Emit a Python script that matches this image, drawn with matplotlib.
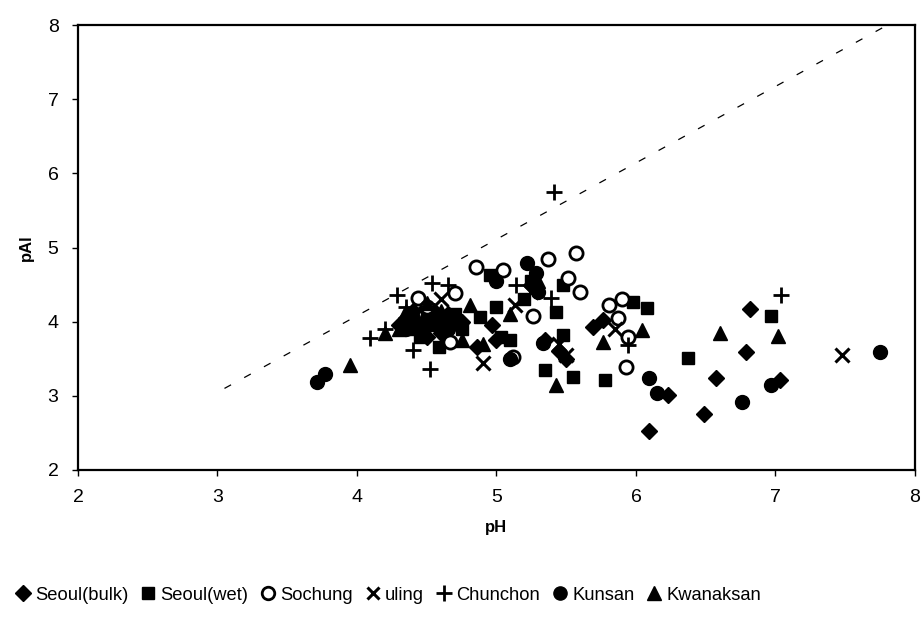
import matplotlib
matplotlib.use("Agg")
import matplotlib.pyplot as plt

plt.rcParams['font.family'] = ['Liberation Sans', 'DejaVu Sans']

# Seoul(bulk) - filled diamonds
bulk_x = [4.30, 4.35, 4.40, 4.45, 4.50, 4.55, 4.60, 4.65, 4.75, 4.86, 4.97, 5.00, 5.25,
          5.35, 5.45, 5.50, 5.69, 5.76, 6.09, 6.23, 6.49, 6.57, 6.79, 6.82, 7.03]
bulk_y = [3.95, 4.05, 4.15, 3.95, 3.80, 4.15, 3.85, 4.10, 4.00, 3.66, 3.95, 3.75, 4.50,
          3.75, 3.60, 3.50, 3.93, 4.02, 2.52, 3.01, 2.76, 3.24, 3.59, 4.17, 3.22]

# Seoul(wet) - filled squares
wet_x = [4.35, 4.40, 4.45, 4.50, 4.55, 4.59, 4.60, 4.70, 4.75, 4.88, 4.95, 5.00, 5.03,
         5.10, 5.20, 5.25, 5.35, 5.43, 5.48, 5.48, 5.55, 5.78, 5.98, 6.08, 6.37, 6.97]
wet_y = [4.00, 3.90, 3.80, 4.10, 3.95, 3.66, 4.00, 4.10, 3.90, 4.06, 4.63, 4.20, 3.80,
         3.75, 4.30, 4.55, 3.35, 4.13, 3.82, 4.50, 3.26, 3.22, 4.27, 4.19, 3.51, 4.08]

# Sochung - open circles
soc_x = [4.44, 4.50, 4.67, 4.70, 4.85, 5.05, 5.12, 5.26, 5.37, 5.51, 5.57, 5.60, 5.81,
         5.87, 5.90, 5.94, 5.93]
soc_y = [4.32, 4.20, 3.73, 4.39, 4.74, 4.70, 3.53, 4.08, 4.85, 4.59, 4.93, 4.40, 4.23,
         4.05, 4.30, 3.80, 3.39]

# uling - x
ul_x = [4.40, 4.60, 4.90, 5.13, 5.25, 5.45, 5.50, 5.85, 7.48]
ul_y = [4.10, 4.30, 3.44, 4.23, 4.40, 3.70, 3.55, 3.90, 3.55]

# Chunchon - plus
ch_x = [4.09, 4.20, 4.29, 4.35, 4.40, 4.52, 4.54, 4.65, 5.14, 5.39, 5.41, 5.94, 7.04]
ch_y = [3.78, 3.90, 4.36, 4.20, 3.62, 3.36, 4.52, 4.50, 4.50, 4.32, 5.75, 3.69, 4.36]

# Kunsan - filled circles
ku_x = [3.71, 3.77, 4.35, 4.40, 4.50, 4.55, 4.65, 4.70, 5.00, 5.10, 5.22, 5.28, 5.30,
        5.33, 6.09, 6.15, 6.76, 6.97, 7.75]
ku_y = [3.19, 3.30, 3.90, 4.05, 4.00, 4.05, 3.90, 4.00, 4.55, 3.50, 4.79, 4.65, 4.40,
        3.71, 3.24, 3.04, 2.92, 3.15, 3.59]

# Kwanaksan - filled triangles
kw_x = [3.95, 4.20, 4.30, 4.35, 4.45, 4.50, 4.60, 4.75, 4.81, 4.90, 5.10, 5.30, 5.43,
        5.76, 6.04, 6.60, 7.02]
kw_y = [3.42, 3.85, 3.90, 4.15, 3.95, 4.25, 4.15, 3.75, 4.23, 3.70, 4.10, 4.55, 3.15,
        3.73, 3.89, 3.85, 3.81]

# reference line
ref_x = [3.05, 7.90]
ref_y = [3.10, 8.10]

ticks = [2, 3, 4, 5, 6, 7, 8]

fig = plt.figure(figsize=(9.22, 6.18), dpi=100)
ax = fig.add_axes([0.0846, 0.2395, 0.9078, 0.72])

ax.plot(ref_x, ref_y, color='black', lw=0.9, dashes=(6, 12), zorder=1)

ms = 9.5
ax.plot(bulk_x, bulk_y, 'D', color='black', ms=ms * 0.85, ls='none', label='Seoul(bulk)')
ax.plot(wet_x, wet_y, 's', color='black', ms=ms * 0.9, ls='none', label='Seoul(wet)')
ax.plot(soc_x, soc_y, 'o', mfc='white', mec='black', mew=2, ms=ms, ls='none', label='Sochung')
ax.plot(ul_x, ul_y, 'x', color='black', mew=2.2, ms=ms, ls='none', label='uling')
ax.plot(ch_x, ch_y, '+', color='black', mew=2.0, ms=ms + 2, ls='none', label='Chunchon')
ax.plot(ku_x, ku_y, 'o', color='black', ms=ms + 0.5, ls='none', label='Kunsan')
ax.plot(kw_x, kw_y, '^', color='black', ms=ms + 0.5, ls='none', label='Kwanaksan')

ax.set_xlim(2, 8)
ax.set_ylim(2, 8)
ax.set_xticks(ticks)
ax.set_yticks(ticks)
ax.tick_params(direction='out', length=4, width=1, labelsize=14, colors='black', pad=10)
for s in ax.spines.values():
    s.set_linewidth(1.6)
    s.set_color('black')

ax.set_xlabel('pH', fontsize=12, fontweight='bold', labelpad=10)
ax.set_ylabel('pAl', fontsize=12, fontweight='bold', labelpad=10)

handles, labels = ax.get_legend_handles_labels()
fig.legend(handles, labels, loc='center left', bbox_to_anchor=(0.0, 0.037), ncol=7,
           frameon=False, fontsize=13.2, handlelength=0.7, handletextpad=0.3,
           columnspacing=0.75, markerscale=0.95)

fig.savefig('out.png', dpi=100)
